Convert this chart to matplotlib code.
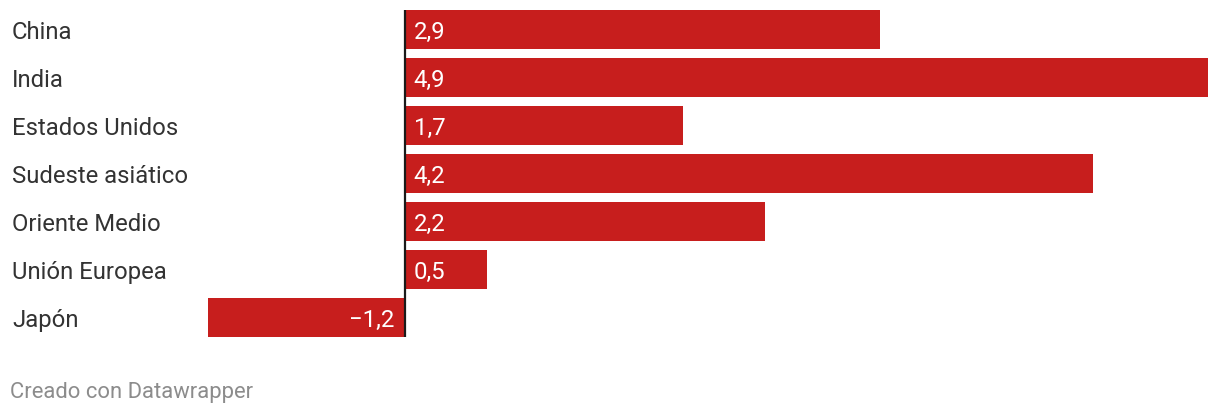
import matplotlib
matplotlib.use("Agg")
import matplotlib.pyplot as plt
import matplotlib.transforms as mtransforms

plt.rcParams['font.family'] = ['Roboto', 'DejaVu Sans']

categories = ["China", "India", "Estados Unidos", "Sudeste asiático",
              "Oriente Medio", "Unión Europea", "Japón"]
values = [2.9, 4.9, 1.7, 4.2, 2.2, 0.5, -1.2]
value_labels = ["2,9", "4,9", "1,7", "4,2", "2,2", "0,5", "\u22121,2"]

W, H = 1220, 414
fig = plt.figure(figsize=(W / 100, H / 100), dpi=100)
ax_left, ax_right = 208 / W, 1208 / W
ax_top, ax_bottom = 1 - 10.5 / H, 1 - 337.5 / H
ax = fig.add_axes([ax_left, ax_bottom, ax_right - ax_left, ax_top - ax_bottom])

red = "#c71e1d"
bh = 0.8125
y = list(range(len(categories)))
ax.barh(y, values, height=bh, color=red, edgecolor="none")
ax.set_xlim(-1.2, 4.9)
ax.set_ylim(len(categories) - 1 + bh / 2, -bh / 2)
ax.axis("off")
ax.axvline(0, color="#1a1a1a", lw=1.6, zorder=3)

fs = 17.2
trans_lab = mtransforms.blended_transform_factory(fig.transFigure, ax.transData)
for i, (c, v, lab) in enumerate(zip(categories, values, value_labels)):
    ax.text(12 / W, i, c, transform=trans_lab, ha="left", va="center_baseline",
            fontsize=fs, color="#333333")
    if v >= 0:
        ax.annotate(lab, (0, i), xytext=(6.5, 0), textcoords="offset points",
                    ha="left", va="center_baseline", fontsize=fs, color="white")
    else:
        ax.annotate(lab, (0, i), xytext=(-7.5, 0), textcoords="offset points",
                    ha="right", va="center_baseline", fontsize=fs, color="white")

fig.text(10 / W, 1 - 390 / H, "Creado con Datawrapper", ha="left",
         va="center_baseline", fontsize=15.8, color="#8c8c8c")

fig.savefig("out.png", dpi=100)
